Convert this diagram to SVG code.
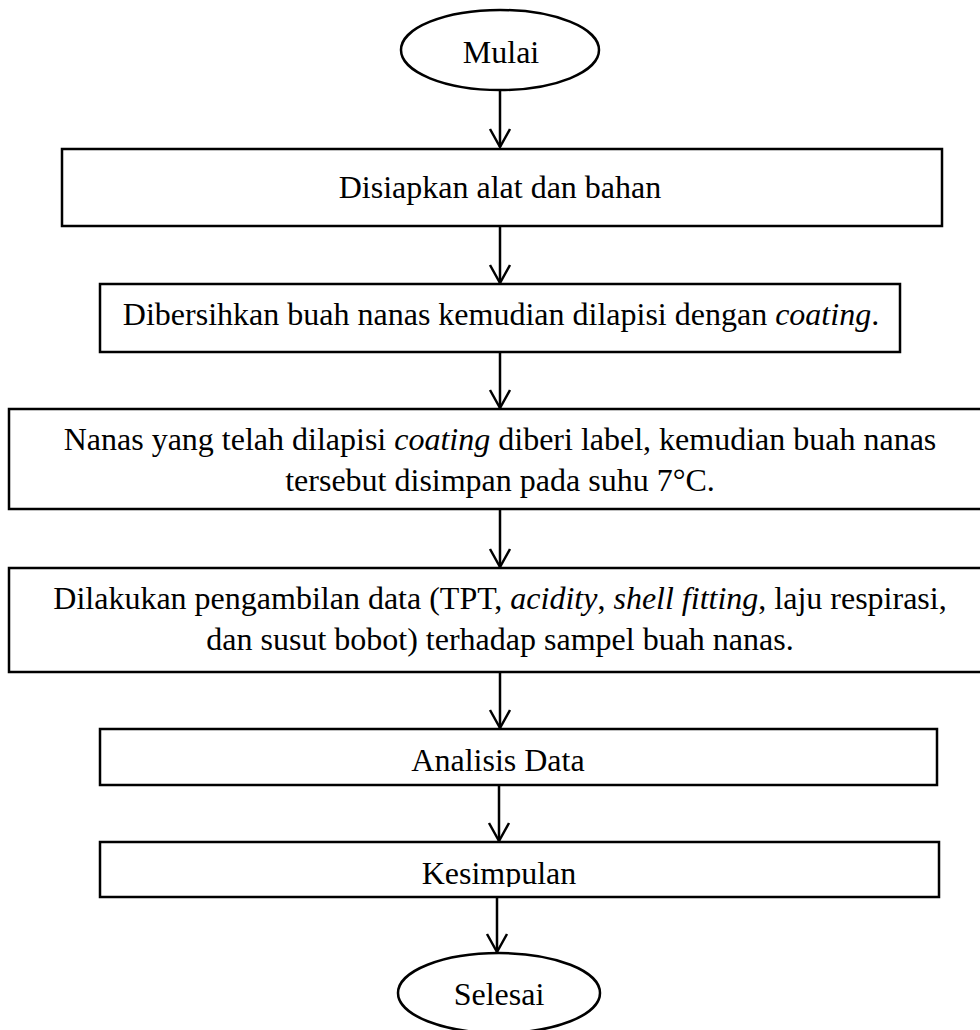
<svg xmlns="http://www.w3.org/2000/svg" width="980" height="1030" viewBox="0 0 980 1030">
<style>
.s{fill:#fff;stroke:#000;stroke-width:2.5}
.t{font-family:"Liberation Serif","Times New Roman",serif;font-size:32px;fill:#000;text-anchor:middle}
.c{stroke:#000;stroke-width:2.5;fill:none}
</style>
<defs>
<marker id="a" markerUnits="userSpaceOnUse" markerWidth="22" markerHeight="24" refX="19" refY="11" orient="auto" viewBox="0 0 22 22">
<path d="M1,1 L19,11 L1,21" fill="none" stroke="#000" stroke-width="2.5"/>
</marker>
<clipPath id="k"><rect x="100" y="843" width="839" height="44"/></clipPath>
</defs>
<rect width="980" height="1030" fill="#fff"/>
<g id="connectors">
<line class="c" x1="500" y1="90" x2="500" y2="147" marker-end="url(#a)"/>
<line class="c" x1="500" y1="226" x2="500" y2="283" marker-end="url(#a)"/>
<line class="c" x1="500" y1="352" x2="500" y2="408" marker-end="url(#a)"/>
<line class="c" x1="500" y1="509" x2="500" y2="567" marker-end="url(#a)"/>
<line class="c" x1="500" y1="672" x2="500" y2="728" marker-end="url(#a)"/>
<line class="c" x1="499" y1="785" x2="499" y2="841" marker-end="url(#a)"/>
<line class="c" x1="497" y1="897" x2="497" y2="952" marker-end="url(#a)"/>
</g>
<g id="mulai">
<ellipse class="s" cx="500" cy="50" rx="99" ry="40"/>
<text class="t" x="501" y="63">Mulai</text>
</g>
<g id="n1">
<rect class="s" x="62" y="149" width="880" height="77"/>
<text class="t" x="500" y="198">Disiapkan alat dan bahan</text>
</g>
<g id="n2">
<rect class="s" x="100" y="284" width="800" height="68"/>
<text class="t" x="501" y="325">Dibersihkan buah nanas kemudian dilapisi dengan <tspan font-style="italic">coating</tspan>.</text>
</g>
<g id="n3">
<rect class="s" x="9" y="409" width="980" height="100"/>
<text class="t" x="500" y="450">Nanas yang telah dilapisi <tspan font-style="italic">coating</tspan> diberi label, kemudian buah nanas</text>
<text class="t" x="500" y="491">tersebut disimpan pada suhu 7°C.</text>
</g>
<g id="n4">
<rect class="s" x="9" y="568" width="980" height="104"/>
<text class="t" x="500" y="609">Dilakukan pengambilan data (TPT, <tspan font-style="italic">acidity</tspan>, <tspan font-style="italic">shell fitting</tspan>, laju respirasi,</text>
<text class="t" x="500" y="650">dan susut bobot) terhadap sampel buah nanas.</text>
</g>
<g id="n5">
<rect class="s" x="100" y="729" width="837" height="56"/>
<text class="t" x="498" y="771">Analisis Data</text>
</g>
<g id="n6">
<rect class="s" x="100" y="842" width="839" height="55"/>
<text class="t" x="499" y="884" clip-path="url(#k)">Kesimpulan</text>
</g>
<g id="selesai">
<ellipse class="s" cx="499" cy="993" rx="101" ry="40"/>
<text class="t" x="499" y="1005">Selesai</text>
</g>
</svg>
